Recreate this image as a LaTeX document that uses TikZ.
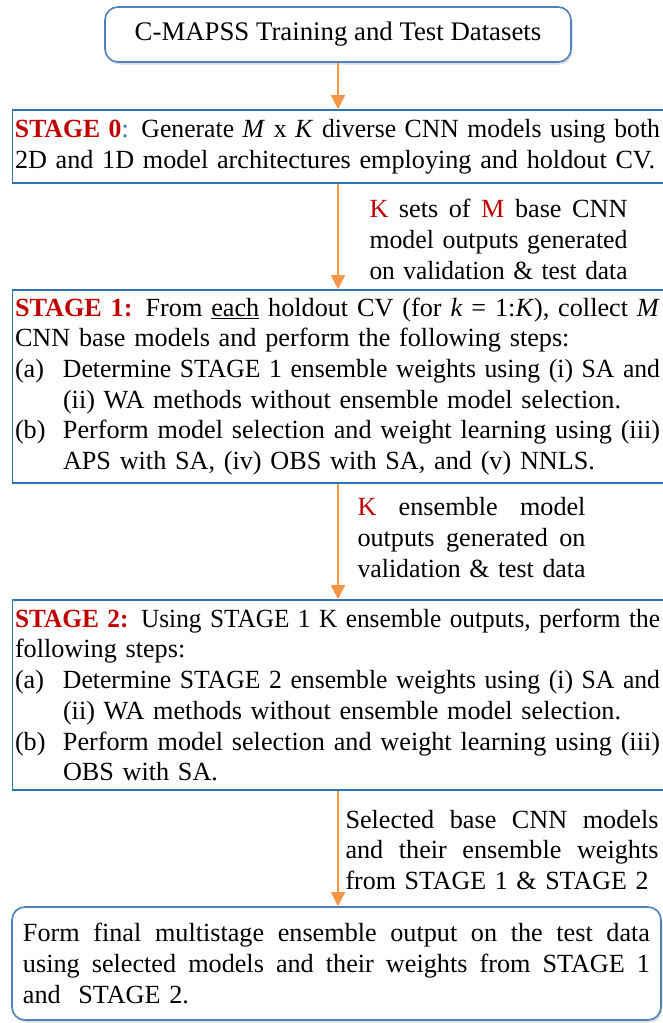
\documentclass[tikz,border=0pt]{standalone}
\usepackage{fontspec}
\setmainfont{Liberation Serif}
\usetikzlibrary{arrows.meta,shadows}
\definecolor{boxblue}{HTML}{2E75B6}
\definecolor{rblue}{HTML}{4F81BD}
\definecolor{arrorange}{HTML}{F79646}
\definecolor{stagered}{HTML}{C00000}
\newcommand{\stg}[1]{\textcolor{stagered}{\textbf{#1}}}
\newcommand{\rd}[1]{\textcolor{stagered}{#1}}
\newsavebox{\jlbox}
\newlength{\jlw}
% justified line of given width: stretch spaces, or compress if too long
\newcommand{\jl}[2]{\leavevmode\setlength{\jlw}{#1}\sbox{\jlbox}{#2}%
  \ifdim\wd\jlbox>\jlw\relax\resizebox{\jlw}{\height}{\usebox{\jlbox}}%
  \else\hbox to\jlw{\spaceskip=\fontdimen2\font plus 20em\relax #2}\fi}
\newcommand{\fitl}[2]{\leavevmode\setlength{\jlw}{#1}\sbox{\jlbox}{#2}%
  \ifdim\wd\jlbox>\jlw\relax\resizebox{\jlw}{\height}{\usebox{\jlbox}}%
  \else\usebox{\jlbox}\fi}
\newcommand{\itm}[2]{\makebox[48pt][l]{#1}\jl{597pt}{#2}}
\begin{document}
\begin{tikzpicture}[x=1pt,y=-1pt,
  txt/.style={font=\fontsize{26.2}{30.7}\selectfont},
  stagebox/.style={txt, draw=boxblue, line width=1.6pt, rectangle, inner xsep=2.5pt, inner ysep=0pt, text width=646pt, align=left},
  roundbox/.style={txt, draw=rblue, line width=1.6pt, rounded corners=13pt, fill=white,
     drop shadow={opacity=0.25, shadow xshift=1.5pt, shadow yshift=-2.5pt}},
  lbl/.style={txt, inner sep=0pt, align=left},
  arr/.style={draw=arrorange, line width=1.6pt, -{Triangle[width=14pt,length=14pt]}}
]
\useasboundingbox (0,0) rectangle (663,1023);

\node[roundbox, font=\fontsize{26.8}{30.7}\selectfont, minimum width=466pt, minimum height=55pt] (top) at (338,34.5) {C-MAPSS Training and Test Datasets};

\node[stagebox, minimum height=73pt] (s0) at (338,146.5) {%
\jl{645pt}{\stg{STAGE 0}\textcolor{boxblue}{:} Generate \emph{M} x \emph{K} diverse CNN models using both}\\
\fitl{640pt}{2D and 1D model architectures employing and holdout CV.}};

\node[stagebox, minimum height=193pt] (s1) at (338,386.5) {%
\jl{645pt}{\stg{STAGE 1:} From \underline{each} holdout CV (for \emph{k} = 1:\emph{K}), collect \emph{M}}\\
CNN base models and perform the following steps:\\
\itm{(a)}{Determine STAGE 1 ensemble weights using (i) SA and}\\
\hspace*{48pt}(ii) WA methods without ensemble model selection.\\
\itm{(b)}{Perform model selection and weight learning using (iii)}\\
\hspace*{48pt}APS with SA, (iv) OBS with SA, and (v) NNLS.};

\node[stagebox, minimum height=190pt] (s2) at (338,695) {%
\jl{645pt}{\stg{STAGE 2:} Using STAGE 1 K ensemble outputs, perform the}\\
following steps:\\
\itm{(a)}{Determine STAGE 2 ensemble weights using (i) SA and}\\
\hspace*{48pt}(ii) WA methods without ensemble model selection.\\
\itm{(b)}{Perform model selection and weight learning using (iii)}\\
\hspace*{48pt}OBS with SA.};

\node[roundbox, inner xsep=11pt, inner ysep=0pt, text width=627pt, align=left, minimum height=113pt] (fin) at (336.5,963.5) {%
\jl{627pt}{Form final multistage ensemble output on the test data}\\
\jl{627pt}{using selected models and their weights from STAGE 1}\\
and~ STAGE 2.};

\node[lbl, text width=258pt] (l1) at (498.5,239.5) {%
\jl{258pt}{\rd{K} sets of \rd{M} base CNN}\\
\jl{258pt}{model outputs generated}\\
\jl{258pt}{on validation \& test data}};

\node[lbl, text width=228pt] (l2) at (471.5,537.5) {%
\jl{228pt}{\rd{K} ensemble model}\\
\jl{228pt}{outputs generated on}\\
\jl{228pt}{validation \& test data}};

\node[lbl, text width=313pt] (l3) at (502,850) {%
\jl{313pt}{Selected base CNN models}\\
\jl{313pt}{and their ensemble weights}\\
\fitl{303pt}{from STAGE 1 \& STAGE 2}};

\draw[arr] (top.south) -- (s0.north);
\draw[arr] (s0.south) -- (s1.north);
\draw[arr] (s1.south) -- (s2.north);
\draw[arr] (s2.south) -- (s2.south |- fin.north);
\end{tikzpicture}
\end{document}
